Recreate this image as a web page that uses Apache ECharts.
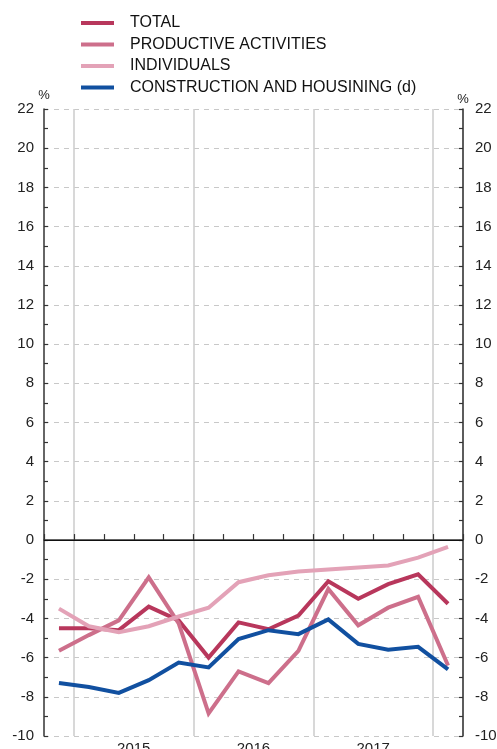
<!DOCTYPE html>
<html>
<head>
<meta charset="utf-8">
<script src="https://cdn.jsdelivr.net/npm/echarts@6/dist/echarts.min.js"></script>
<style>html,body{margin:0;padding:0;background:#fff;}#c{width:497px;height:749px;}</style>
</head>
<body>
<div id="c"></div>
<script>
const quarters = ['2014Q4','2015Q1','2015Q2','2015Q3','2015Q4','2016Q1','2016Q2','2016Q3','2016Q4','2017Q1','2017Q2','2017Q3','2017Q4','2018Q1'];
const seriesNames = ['TOTAL','PRODUCTIVE ACTIVITIES','INDIVIDUALS','CONSTRUCTION AND HOUSINING (d)'];
const total = [-4.5, -4.5, -4.6, -3.4, -4.1, -6.0, -4.2, -4.55, -3.85, -2.1, -3.0, -2.25, -1.75, -3.25];
const productive = [-5.65, -4.85, -4.1, -1.9, -4.25, -8.85, -6.7, -7.3, -5.65, -2.5, -4.35, -3.45, -2.9, -6.4];
const individuals = [-3.5, -4.4, -4.7, -4.4, -3.9, -3.45, -2.15, -1.8, -1.6, -1.5, -1.4, -1.3, -0.9, -0.35];
const construction = [-7.3, -7.5, -7.8, -7.15, -6.25, -6.5, -5.05, -4.6, -4.8, -4.05, -5.3, -5.6, -5.45, -6.6];
const yMin = -10, yMax = 22, yStep = 2;

const colors = ['#b8375c', '#cd6f8b', '#e3a2b7', '#1150a0'];
const font = '"Liberation Sans", Arial, Helvetica, sans-serif';

const chart = echarts.init(document.getElementById('c'), null, {renderer: 'canvas', width: 497, height: 749});

function yAxisCfg(pos) {
  return {
    type: 'value', position: pos, min: yMin, max: yMax, interval: yStep,
    name: '%', nameLocation: 'end', nameGap: 3,
    nameTextStyle: {fontFamily: font, fontSize: 13, color: '#222', align: 'center', verticalAlign: 'bottom'},
    axisLine: {show: true, lineStyle: {color: '#333', width: 1.5}},
    axisTick: {show: true, inside: true, length: 4, lineStyle: {color: '#333', width: 1.2}},
    minorTick: {show: true, splitNumber: 2, length: 4, lineStyle: {color: '#333', width: 1.2}},
    axisLabel: {fontFamily: font, fontSize: 15, color: '#222', margin: pos === 'left' ? 10 : 12,
      align: pos === 'left' ? 'right' : 'left'},
    splitLine: {show: pos === 'left', lineStyle: {color: '#c8c8c8', type: [5, 5], width: 1}}
  };
}

const dataSets = [total, productive, individuals, construction];
const series = dataSets.map((d, i) => ({
  name: seriesNames[i], type: 'line', data: d, symbol: 'none', smooth: false,
  lineStyle: {color: colors[i], width: 4, cap: 'butt', join: 'miter'},
  itemStyle: {color: colors[i]},
  z: 3 + i
}));
series[0].markLine = {
  silent: true, symbol: 'none', label: {show: false},
  lineStyle: {color: '#111', type: 'solid', width: 1.2},
  data: [{yAxis: 0}], z: 2
};

chart.setOption({
  animation: false,
  backgroundColor: '#fff',
  grid: {left: 44, right: 34, top: 109, bottom: 13, containLabel: false, outerBoundsMode: 'none'},
  legend: {
    orient: 'vertical', left: 81, top: 15, padding: 0, itemWidth: 33, itemHeight: 4, itemGap: 5.5,
    icon: 'rect', data: seriesNames,
    textStyle: {fontFamily: font, fontSize: 16, color: '#111', padding: [0, 0, 0, 11]}
  },
  xAxis: {
    type: 'category', data: quarters, boundaryGap: true,
    axisLine: {show: true, lineStyle: {color: '#333', width: 1.5}},
    axisTick: {show: true, inside: true, length: 6, interval: 0, lineStyle: {color: '#333', width: 1.2}},
    axisLabel: {
      interval: 0, fontFamily: font, fontSize: 15, color: '#222', margin: 5,
      padding: [0, 30, 0, 0],
      formatter: (v) => v.endsWith('Q3') ? v.slice(0, 4) : ''
    },
    splitLine: {show: true, interval: (idx) => quarters[idx] && quarters[idx].endsWith('Q1'),
      lineStyle: {color: '#cfcfcf', width: 1.6, type: 'solid'}}
  },
  yAxis: [yAxisCfg('left'), yAxisCfg('right')],
  series: series
});
</script>
</body>
</html>
